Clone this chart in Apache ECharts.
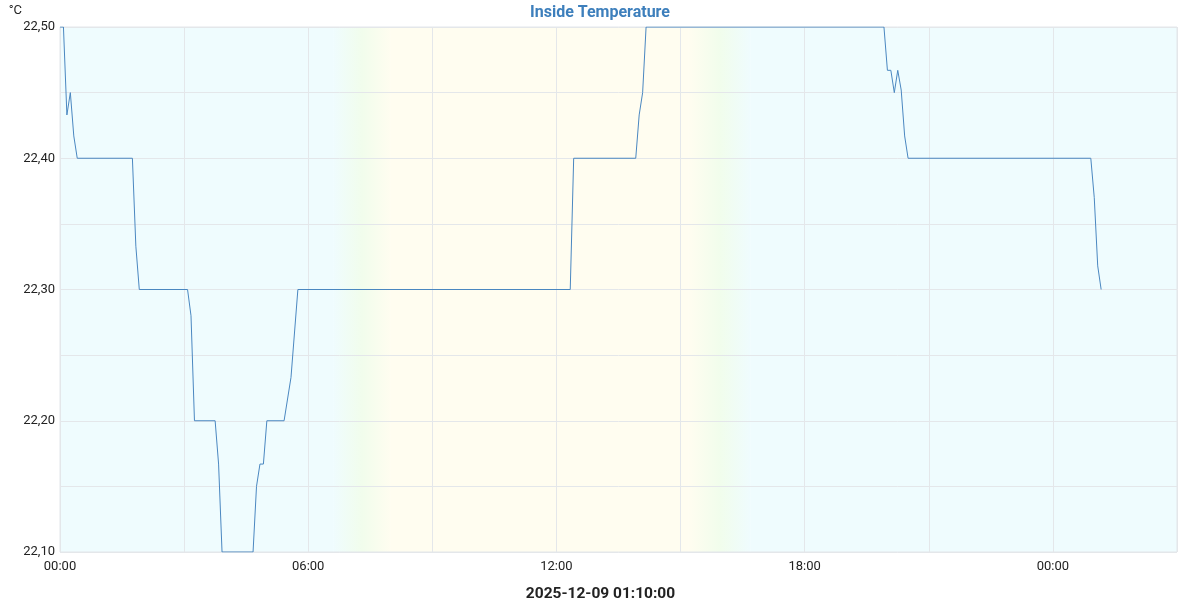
<!DOCTYPE html>
<html>
<head>
<meta charset="utf-8">
<script src="https://cdn.jsdelivr.net/npm/echarts@6/dist/echarts.min.js"></script>
<style>html,body{margin:0;padding:0;background:#fff}#c{width:1200px;height:600px}</style>
</head>
<body>
<div id="c"></div>
<script>
const baseDay = '2025-12-08';
const times = [
  '2025-12-08 00:00','2025-12-08 00:05','2025-12-08 00:10','2025-12-08 00:15','2025-12-08 00:20','2025-12-08 00:25',
  '2025-12-08 01:45','2025-12-08 01:50','2025-12-08 01:55',
  '2025-12-08 03:05','2025-12-08 03:10','2025-12-08 03:15',
  '2025-12-08 03:45','2025-12-08 03:50','2025-12-08 03:55',
  '2025-12-08 04:40','2025-12-08 04:45','2025-12-08 04:50','2025-12-08 04:55','2025-12-08 05:00',
  '2025-12-08 05:25','2025-12-08 05:35','2025-12-08 05:45',
  '2025-12-08 12:20','2025-12-08 12:25',
  '2025-12-08 13:55','2025-12-08 14:00','2025-12-08 14:05','2025-12-08 14:10',
  '2025-12-08 19:55','2025-12-08 20:00','2025-12-08 20:05','2025-12-08 20:10','2025-12-08 20:15','2025-12-08 20:20','2025-12-08 20:25','2025-12-08 20:30',
  '2025-12-09 00:55','2025-12-09 01:00','2025-12-09 01:05','2025-12-09 01:10'
];
const temps = [
  22.50,22.50,22.433,22.45,22.417,22.40,
  22.40,22.333,22.30,
  22.30,22.28,22.20,
  22.20,22.167,22.10,
  22.10,22.15,22.167,22.167,22.20,
  22.20,22.233,22.30,
  22.30,22.40,
  22.40,22.433,22.45,22.50,
  22.50,22.467,22.467,22.45,22.467,22.452,22.417,22.40,
  22.40,22.37,22.318,22.30
];
// daylight shading (hours since start of axis)
const dawnStart = 6.6, dawnEnd = 8.0, duskStart = 15.2, duskEnd = 16.7;
const yTicks = [22.1, 22.2, 22.3, 22.4, 22.5];
const xAxisName = '2025-12-09 01:10:00';
const titleText = 'Inside Temperature';

const t0 = new Date(baseDay + 'T00:00:00').getTime();
const toHours = s => (new Date(s.replace(' ', 'T') + ':00').getTime() - t0) / 3600000;
const seriesData = times.map((t, i) => [toHours(t), temps[i]]);

const cyan = '#effcfe', green = '#f1fdec', yellow = '#fffdf0';
const grad = (a, b, c) => new echarts.graphic.LinearGradient(0, 0, 1, 0, [
  {offset: 0, color: a}, {offset: 0.5, color: b}, {offset: 1, color: c}]);

const chart = echarts.init(document.getElementById('c'));
chart.setOption({
  animation: false,
  title: {
    text: titleText, left: 'center', top: 0,
    textStyle: {color: '#3d7fbc', fontSize: 16, fontWeight: 'bold', fontFamily: 'Roboto'}
  },
  grid: {
    left: 60, right: 23, top: 27, bottom: 48,
    outerBoundsMode: 'none',
    show: true, backgroundColor: 'transparent', borderColor: '#e2e7eb', borderWidth: 1
  },
  xAxis: {
    type: 'value', min: 0, max: 27, interval: 3,
    name: xAxisName, nameLocation: 'middle', nameGap: 34,
    nameTextStyle: {color: '#222', fontSize: 15.5, fontWeight: 'bold', fontFamily: 'Roboto', padding: [0, 36, 0, 0]},
    axisLine: {show: false}, axisTick: {show: false},
    axisLabel: {
      color: '#222', fontSize: 13, fontFamily: 'Roboto', margin: 8,
      formatter: v => (Math.round(v) % 6 === 0) ? String(Math.round(v) % 24).padStart(2, '0') + ':00' : ''
    },
    splitLine: {show: true, lineStyle: {color: '#e4e7ea', width: 1}}
  },
  yAxis: {
    type: 'value', min: yTicks[0], max: yTicks[yTicks.length - 1], interval: 0.1,
    name: '°C', nameLocation: 'end', nameGap: 10,
    nameTextStyle: {color: '#222', fontSize: 13, fontFamily: 'Roboto', align: 'right', padding: [0, 38, 0, 0]},
    axisLine: {show: false}, axisTick: {show: false},
    axisLabel: {
      color: '#222', fontSize: 13, fontFamily: 'Roboto', margin: 5,
      formatter: v => v.toFixed(2).replace('.', ',')
    },
    splitLine: {show: true, lineStyle: {color: '#e4e7ea', width: 1}},
    minorTick: {show: false, splitNumber: 2},
    minorSplitLine: {show: true, lineStyle: {color: '#e4e7ea', width: 1}}
  },
  series: [{
    type: 'line',
    data: [],
    z: -1,
    silent: true,
    markArea: {
      silent: true,
      z: -1,
      zlevel: 0,
      data: [
        [{xAxis: 0, itemStyle: {color: cyan}}, {xAxis: dawnStart}],
        [{xAxis: dawnStart, itemStyle: {color: grad(cyan, green, yellow)}}, {xAxis: dawnEnd}],
        [{xAxis: dawnEnd, itemStyle: {color: yellow}}, {xAxis: duskStart}],
        [{xAxis: duskStart, itemStyle: {color: grad(yellow, green, cyan)}}, {xAxis: duskEnd}],
        [{xAxis: duskEnd, itemStyle: {color: cyan}}, {xAxis: 27}]
      ]
    }
  }, {
    type: 'line',
    data: seriesData,
    showSymbol: false,
    symbol: 'none',
    lineStyle: {color: '#4a87c0', width: 1},
    itemStyle: {color: '#4a87c0'},
    z: 3
  }]
});
</script>
</body>
</html>
